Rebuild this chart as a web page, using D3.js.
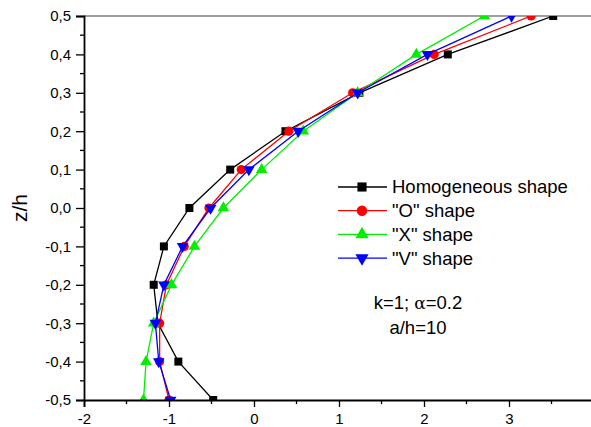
<!DOCTYPE html>
<html>
<head>
<meta charset="utf-8">
<script src="https://cdn.jsdelivr.net/npm/d3@7"></script>
<style>
  body { margin: 0; background: #fff; }
  svg { display: block; font-family: Arial, "Liberation Sans", sans-serif; }
</style>
</head>
<body>
<script>
var z = [0.5, 0.4, 0.3, 0.2, 0.1, 0.0, -0.1, -0.2, -0.3, -0.4, -0.5];
var homogeneous = [3.52, 2.28, 1.24, 0.37, -0.28, -0.76, -1.06, -1.18, -1.13, -0.89, -0.48];
var oShape = [3.26, 2.12, 1.16, 0.41, -0.15, -0.53, -0.82, -1.03, -1.11, -1.11, -1.00];
var xShape = [2.71, 1.91, 1.22, 0.58, 0.09, -0.36, -0.70, -0.97, -1.18, -1.27, -1.30];
var vShape = [3.03, 2.04, 1.22, 0.52, -0.06, -0.51, -0.84, -1.06, -1.16, -1.12, -0.98];
var seriesNames = ["Homogeneous shape", "\"O\" shape", "\"X\" shape", "\"V\" shape"];
var xTicks = [-2, -1, 0, 1, 2, 3];
var yTicks = [-0.5, -0.4, -0.3, -0.2, -0.1, 0.0, 0.1, 0.2, 0.3, 0.4, 0.5];

var w = 591, h = 427;
var margin = {top: 16, left: 84};
var pw = 510, ph = 384;

var series = [
  {name: seriesNames[0], vals: homogeneous, color: "#000000", sym: d3.symbolSquare, size: 64, rot: 0},
  {name: seriesNames[1], vals: oShape, color: "#ff0000", sym: d3.symbolCircle, size: 66, rot: 0},
  {name: seriesNames[2], vals: xShape, color: "#00ee00", sym: d3.symbolTriangle, size: 58, rot: 0},
  {name: seriesNames[3], vals: vShape, color: "#0000ff", sym: d3.symbolTriangle, size: 58, rot: 180}
];

var svg = d3.select("body").append("svg")
  .attr("width", w)
  .attr("height", h);

var x = d3.scaleLinear().domain([-2, 4]).range([0, pw]);
var y = d3.scaleLinear().domain([-0.5, 0.5]).range([ph, 0]);

var g = svg.append("g").attr("transform", "translate(" + margin.left + "," + margin.top + ")");

g.append("clipPath").attr("id", "plotclip")
  .append("rect").attr("width", pw).attr("height", ph);

// top frame
g.append("line")
  .attr("x1", 0).attr("x2", pw).attr("y1", 0).attr("y2", 0)
  .attr("stroke", "#808080").attr("stroke-width", 1.6);

var plot = g.append("g").attr("clip-path", "url(#plotclip)");

var line = d3.line()
  .x(function (d) { return x(d[0]); })
  .y(function (d) { return y(d[1]); });

series.forEach(function (s) {
  var pts = s.vals.map(function (v, i) { return [v, z[i]]; });
  plot.append("path")
    .datum(pts)
    .attr("fill", "none")
    .attr("stroke", s.color)
    .attr("stroke-width", 1.3)
    .attr("d", line);
  plot.selectAll(null)
    .data(pts)
    .enter()
    .append("path")
    .attr("d", d3.symbol().type(s.sym).size(s.size))
    .attr("fill", s.color)
    .attr("transform", function (d) {
      return "translate(" + x(d[0]) + "," + y(d[1]) + ") rotate(" + s.rot + ")";
    });
});

// x axis
var xMinor = d3.range(-1.5, 4, 1);
g.append("g").attr("transform", "translate(0," + ph + ")")
  .selectAll("line").data(xMinor).enter().append("line")
  .attr("x1", function (d) { return x(d); }).attr("x2", function (d) { return x(d); })
  .attr("y1", 0).attr("y2", 4).attr("stroke", "#000").attr("stroke-width", 1.3);

var xAxis = g.append("g").attr("transform", "translate(0," + ph + ")")
  .call(d3.axisBottom(x).tickValues(xTicks).tickSize(7).tickPadding(6).tickFormat(d3.format("d")));
xAxis.select(".domain").attr("stroke-width", 1.8);
xAxis.selectAll(".tick line").attr("stroke-width", 1.3);
xAxis.selectAll("text").attr("font-size", 15).attr("font-family", "Arial, 'Liberation Sans', sans-serif")
  .text(function (d) { return d < 0 ? "-" + Math.abs(d) : d; });

// y axis
var yMinor = d3.range(-0.45, 0.5, 0.1);
g.append("g")
  .selectAll("line").data(yMinor).enter().append("line")
  .attr("x1", 0).attr("x2", -4)
  .attr("y1", function (d) { return y(d); }).attr("y2", function (d) { return y(d); })
  .attr("stroke", "#000").attr("stroke-width", 1.3);

var yAxis = g.append("g")
  .call(d3.axisLeft(y).tickValues(yTicks).tickSize(8).tickPadding(5)
    .tickFormat(function (d) {
      var s = Math.abs(d).toFixed(1).replace(".", ",");
      return (d < -0.001 ? "-" : "") + s;
    }));
yAxis.select(".domain").attr("stroke-width", 1.8);
yAxis.selectAll(".tick line").attr("stroke-width", 1.3);
yAxis.selectAll("text").attr("font-size", 15).attr("font-family", "Arial, 'Liberation Sans', sans-serif");

// y label
svg.append("text")
  .attr("transform", "translate(27," + (margin.top + y(0)) + ") rotate(-90)")
  .attr("text-anchor", "middle")
  .attr("font-size", 21)
  .text("z/h");

// legend
var legend = svg.append("g").attr("transform", "translate(338,187)");
series.forEach(function (s, i) {
  var row = legend.append("g").attr("transform", "translate(0," + (i * 23.7) + ")");
  row.append("line").attr("x1", 0).attr("x2", 49).attr("y1", 0).attr("y2", 0)
    .attr("stroke", s.color).attr("stroke-width", 1.3);
  row.append("path")
    .attr("d", d3.symbol().type(s.sym).size(s.size * 1.3))
    .attr("fill", s.color)
    .attr("transform", "translate(24,0) rotate(" + s.rot + ")");
  row.append("text").attr("x", 54).attr("y", 0).attr("dy", "0.35em")
    .attr("font-size", 18.5).text(s.name);
});

// annotation
var ann = svg.append("text").attr("x", 418).attr("y", 309).attr("text-anchor", "middle").attr("font-size", 18.5);
ann.append("tspan").text("k=1; ");
ann.append("tspan").attr("font-family", "'DejaVu Serif', 'Liberation Serif', serif").attr("font-size", 17).text("\u03b1");
ann.append("tspan").text("=0.2");
svg.append("text").attr("x", 418).attr("y", 334).attr("text-anchor", "middle").attr("font-size", 18.5).text("a/h=10");
</script>
</body>
</html>
